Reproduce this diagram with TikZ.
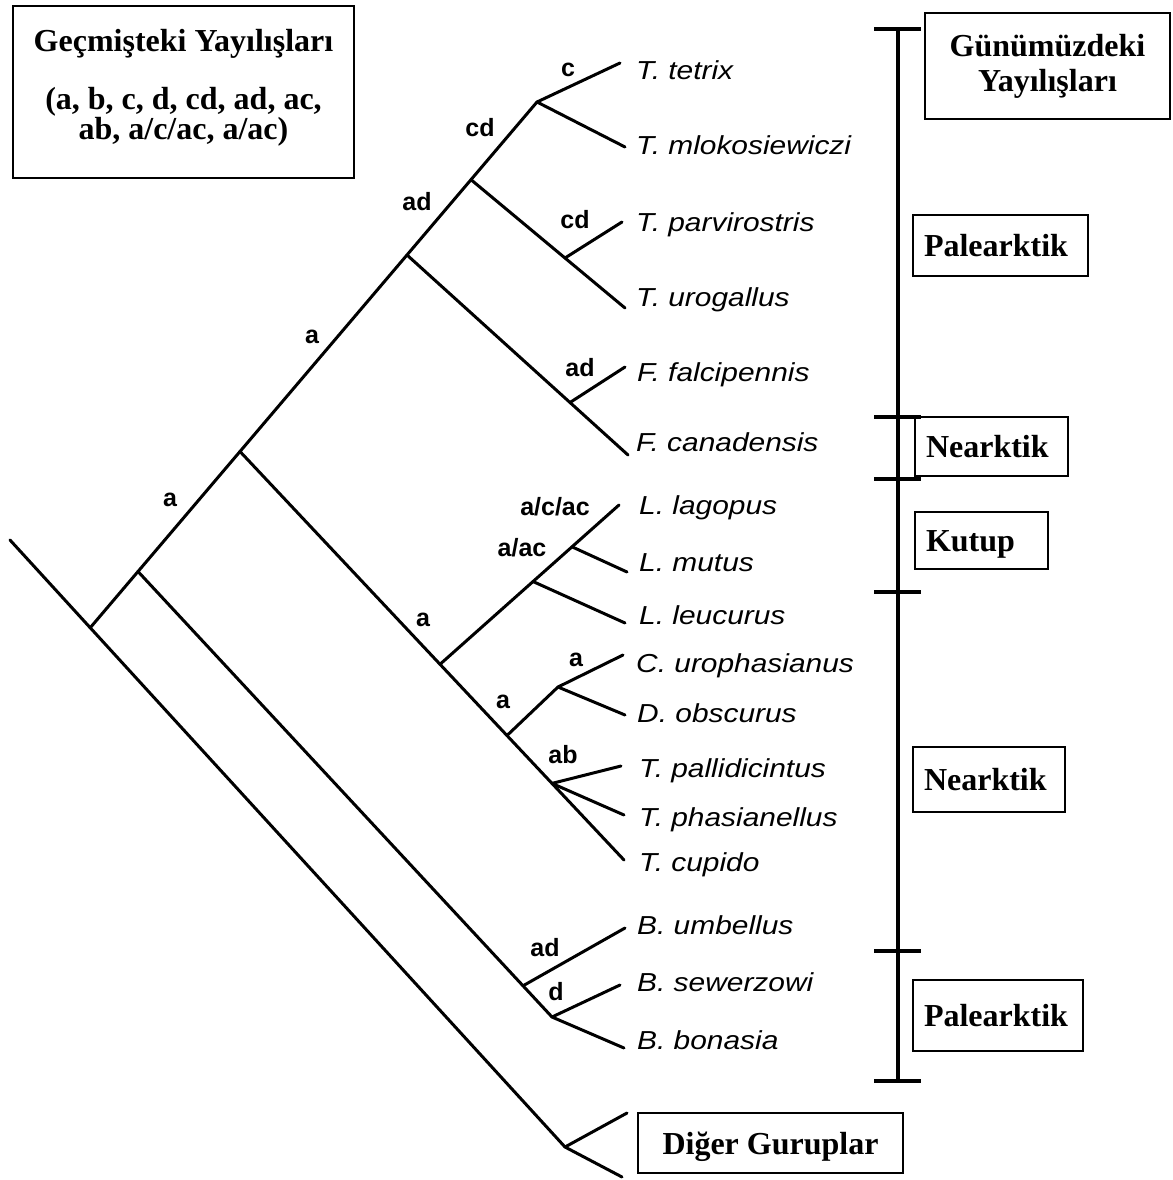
\documentclass[tikz,border=0pt]{standalone}
\usepackage{fontspec}
\setmainfont{Liberation Serif}
\newfontfamily\spfont[FakeStretch=1.15]{Liberation Sans}
\newfontfamily\lblfont{Liberation Sans}
\usetikzlibrary{positioning}

\begin{document}
\begin{tikzpicture}[
  x=1pt,y=-1pt,
  branch/.style={line width=3pt,line cap=round,line join=round},
  species/.style={anchor=west,inner sep=0pt,text height=18.5pt,text depth=0pt,font=\spfont\itshape\fontsize{26}{30}\selectfont},
  brlabel/.style={inner sep=0pt,font=\lblfont\bfseries\fontsize{25}{30}\selectfont},
  regbox/.style={draw,line width=1.6pt,inner xsep=11pt,inner ysep=0pt,text height=22pt,text depth=0pt,align=left,font=\bfseries\fontsize{32}{35}\selectfont},
  bigbox/.style={draw,line width=1.6pt,inner sep=0pt,align=center,font=\bfseries\fontsize{32}{30}\selectfont},
  scalebar/.style={line width=4pt}
]
\useasboundingbox (0,0) rectangle (1172,1180);

% tree junctions
\coordinate (root) at (10,540);
\coordinate (dig) at (565,1147);
\coordinate (r0) at (90,628);
\coordinate (r1) at (138,571.5);
\coordinate (r2) at (240,451.5);
\coordinate (r3) at (407,255);
\coordinate (r4) at (471,179.7);
\coordinate (r5) at (537,102);
\coordinate (r6) at (565,258);
\coordinate (r7) at (570,402.5);
\coordinate (lg1) at (440,664.3);
\coordinate (lg2) at (533,581.5);
\coordinate (lg3) at (572,546.8);
\coordinate (cd1) at (507,735.5);
\coordinate (cd2) at (558,687);
\coordinate (tp1) at (552,783.4);
\coordinate (bo1) at (523,985.8);
\coordinate (bo2) at (552,1017);
% tips
\coordinate (tTet) at (620,63);
\coordinate (tMlo) at (625,147);
\coordinate (tPar) at (622,222);
\coordinate (tUro) at (625,308);
\coordinate (tFal) at (625,367);
\coordinate (tCan) at (628,455);
\coordinate (tLag) at (619,505);
\coordinate (tMut) at (627,572);
\coordinate (tLeu) at (625,623);
\coordinate (tCur) at (623,655);
\coordinate (tObs) at (625,715);
\coordinate (tPal) at (621,766);
\coordinate (tPha) at (624,815);
\coordinate (tCup) at (624,860);
\coordinate (tUmb) at (625,928);
\coordinate (tSew) at (620,985);
\coordinate (tBon) at (624,1048);
\coordinate (tDgA) at (627,1113);
\coordinate (tDgB) at (622,1177);

% branches
\draw[branch] (root) -- (dig);
\draw[branch] (dig) -- (tDgA);
\draw[branch] (dig) -- (tDgB);
\draw[branch] (r0) -- (r5) -- (tTet);
\draw[branch] (r5) -- (tMlo);
\draw[branch] (r4) -- (tUro);
\draw[branch] (r6) -- (tPar);
\draw[branch] (r3) -- (tCan);
\draw[branch] (r7) -- (tFal);
\draw[branch] (r2) -- (tCup);
\draw[branch] (lg1) -- (tLag);
\draw[branch] (lg3) -- (tMut);
\draw[branch] (lg2) -- (tLeu);
\draw[branch] (cd1) -- (cd2) -- (tCur);
\draw[branch] (cd2) -- (tObs);
\draw[branch] (tp1) -- (tPal);
\draw[branch] (tp1) -- (tPha);
\draw[branch] (r1) -- (bo2) -- (tBon);
\draw[branch] (bo2) -- (tSew);
\draw[branch] (bo1) -- (tUmb);

% species
\node[species] (sTet) at (636,70) {T. tetrix};
\node[species] (sMlo) at (636,145) {T. mlokosiewiczi};
\node[species] (sPar) at (636,222) {T. parvirostris};
\node[species] (sUro) at (636,297) {T. urogallus};
\node[species] (sFal) at (637,372) {F. falcipennis};
\node[species] (sCan) at (636,442) {F. canadensis};
\node[species] (sLag) at (639,505) {L. lagopus};
\node[species] (sMut) at (639,562) {L. mutus};
\node[species] (sLeu) at (639,615) {L. leucurus};
\node[species] (sCur) at (636,663) {C. urophasianus};
\node[species] (sObs) at (637,713) {D. obscurus};
\node[species] (sPal) at (639,768) {T. pallidicintus};
\node[species] (sPha) at (639,817) {T. phasianellus};
\node[species] (sCup) at (639,862) {T. cupido};
\node[species] (sUmb) at (637,925) {B. umbellus};
\node[species] (sSew) at (637,982) {B. sewerzowi};
\node[species] (sBon) at (637,1040) {B. bonasia};

% branch labels
\node[brlabel] (lC) at (568,70) {c};
\node[brlabel] (lCd1) at (480,128) {cd};
\node[brlabel] (lAd1) at (417,202) {ad};
\node[brlabel] (lCd2) at (575,220) {cd};
\node[brlabel] (lA1) at (312,337) {a};
\node[brlabel] (lA2) at (170,500) {a};
\node[brlabel] (lAd2) at (580,368) {ad};
\node[brlabel] (lAcac) at (555,507) {a/c/ac};
\node[brlabel] (lAac) at (522,548) {a/ac};
\node[brlabel] (lA3) at (423,620) {a};
\node[brlabel] (lA4) at (576,660) {a};
\node[brlabel] (lA5) at (503,702) {a};
\node[brlabel] (lAb) at (563,755) {ab};
\node[brlabel] (lAd3) at (545,948) {ad};
\node[brlabel] (lD) at (556,992) {d};

% distribution bar
\draw[scalebar] (898,29) -- (898,1081);
\draw[scalebar] (874,29) -- (921,29);
\draw[scalebar] (874,417) -- (921,417);
\draw[scalebar] (874,479) -- (921,479);
\draw[scalebar] (874,592) -- (921,592);
\draw[scalebar] (874,951) -- (921,951);
\draw[scalebar] (874,1081) -- (921,1081);

% boxes
\node[bigbox,minimum width=341pt,minimum height=172pt] (past) at (183.5,92)
  {Geçmişteki Yayılışları\\[28pt](a, b, c, d, cd, ad, ac,\\ab, a/c/ac, a/ac)\rule[-16pt]{0pt}{16pt}};
\node[bigbox,minimum width=245pt,minimum height=106pt,font=\bfseries\fontsize{32}{35}\selectfont] (today) at (1047.5,66)
  {Günümüzdeki\\Yayılışları};
\node[regbox,minimum width=175pt,minimum height=61pt,text width=153pt] (pal1) at (1000.5,245.5) {Palearktik};
\node[regbox,minimum width=153pt,minimum height=59pt,text width=131pt] (nea1) at (991.5,446.5) {Nearktik};
\node[regbox,minimum width=133pt,minimum height=57pt,text width=111pt] (kut) at (981.5,540.5) {Kutup};
\node[regbox,minimum width=152pt,minimum height=65pt,text width=130pt] (nea2) at (989,779.5) {Nearktik};
\node[regbox,minimum width=170pt,minimum height=71pt,text width=148pt] (pal2) at (998,1015.5) {Palearktik};
\node[bigbox,minimum width=265pt,minimum height=60pt,text height=22pt,text depth=0pt] (other) at (770.5,1143) {Diğer Guruplar};
\end{tikzpicture}
\end{document}
